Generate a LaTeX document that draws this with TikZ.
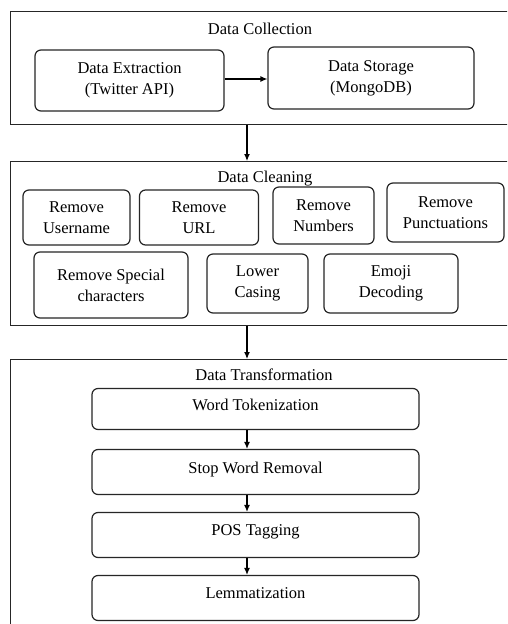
\documentclass[tikz,border=0pt]{standalone}
\usepackage{fontspec}
\setmainfont{Liberation Serif}
\usetikzlibrary{arrows.meta,positioning}

\begin{document}
\begin{tikzpicture}[x=1pt,y=-1pt,font=\fontsize{16.5}{21}\selectfont,
    stage/.style={draw=black!85,line width=1.2pt,anchor=north west,inner sep=0pt},
    task/.style={draw=black!85,line width=1.2pt,rounded corners=6pt,align=center,inner sep=0pt},
    step task/.style={task,minimum width=327pt,minimum height=45pt,text depth=9pt},
    flow/.style={-{Latex[length=7pt,width=6pt]},line width=1.2pt},
    node distance=63pt,on grid]
\clip (0,0) rectangle (507,624);
\fill[white] (0,0) rectangle (507,624);
\coordinate (spine) at (247,0);

% data collection
\node[stage,minimum width=530pt,minimum height=113pt] (collect) at (10,11) {};
\node (collecttitle) at (260,29) {Data Collection};
\node[task,minimum width=189pt,minimum height=61pt] (extract) at (129.5,80.5) {Data Extraction\\(Twitter API)};
\node[task,minimum width=206pt,minimum height=62pt] (store) at (371,78) {Data Storage\\(MongoDB)};
\draw[flow] (extract.east |- 0,79) -- (store.west |- 0,79);

% data cleaning
\node[stage,minimum width=530pt,minimum height=164pt] (clean) at (10,161) {};
\node (cleantitle) at (265,179) {Data Cleaning};
\node[task,minimum width=107pt,minimum height=55pt] (username) at (76.5,217.5) {Remove\\Username};
\node[task,minimum width=119pt,minimum height=55pt] (url) at (199,217.5) {Remove\\URL};
\node[task,minimum width=101pt,minimum height=57pt] (numbers) at (323.5,215.5) {Remove\\Numbers};
\node[task,minimum width=117pt,minimum height=59pt] (punct) at (445.5,212.5) {Remove\\Punctuations};
\node[task,minimum width=154pt,minimum height=66pt] (special) at (111,285) {Remove Special\\characters};
\node[task,minimum width=101pt,minimum height=59pt] (lower) at (257.5,283.5) {Lower\\Casing};
\node[task,minimum width=134pt,minimum height=59pt] (emoji) at (391,283.5) {Emoji\\Decoding};

% data transformation
\node[stage,minimum width=530pt,minimum height=290pt] (transform) at (10,359) {};
\node (transformtitle) at (264,375) {Data Transformation};
\node[step task,minimum height=41pt] (tokenize) at (255.5,409) {Word Tokenization};
\node[step task] (stopword) [below=of tokenize] {Stop Word Removal};
\node[step task] (postag) [below=of stopword] {POS Tagging};
\node[step task] (lemma) [below=of postag] {Lemmatization};

\draw[flow] (collect.south -| spine) -- (clean.north -| spine);
\draw[flow] (clean.south -| spine) -- (transform.north -| spine);
\draw[flow] (tokenize.south -| spine) -- (stopword.north -| spine);
\draw[flow] (stopword.south -| spine) -- (postag.north -| spine);
\draw[flow] (postag.south -| spine) -- (lemma.north -| spine);
\end{tikzpicture}
\end{document}
